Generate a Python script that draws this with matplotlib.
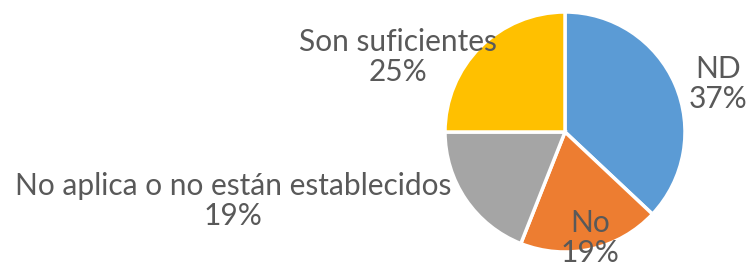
import matplotlib
matplotlib.use('Agg')
import matplotlib.pyplot as plt

# Data
categories = ['ND', 'No', 'No aplica o no están establecidos', 'Son suficientes']
percentages = [37, 19, 19, 25]
colors = ['#5B9BD5', '#ED7D31', '#A5A5A5', '#FFC000']

# label centres in pixel space (x, y from top)
label_pos = [(718, 84), (590, 238), (233, 201), (398, 57)]

W, H = 750, 266
fig = plt.figure(figsize=(W / 100, H / 100), dpi=100)
ax = fig.add_axes([0, 0, 1, 1])

ax.pie(percentages, colors=colors, startangle=90, counterclock=False,
       center=(565, H - 132), radius=120,
       wedgeprops=dict(edgecolor='white', linewidth=2.5))

for cat, pct, (x, y) in zip(categories, percentages, label_pos):
    ax.text(x, H - y, f"{cat}\n{pct}%", ha='center', va='center',
            fontsize=21.5, color='#595959', family='Lato', linespacing=1.12)

ax.set_xlim(0, W)
ax.set_ylim(0, H)
ax.set_aspect('equal')
ax.axis('off')

plt.savefig('out.png', dpi=100)
plt.close()
